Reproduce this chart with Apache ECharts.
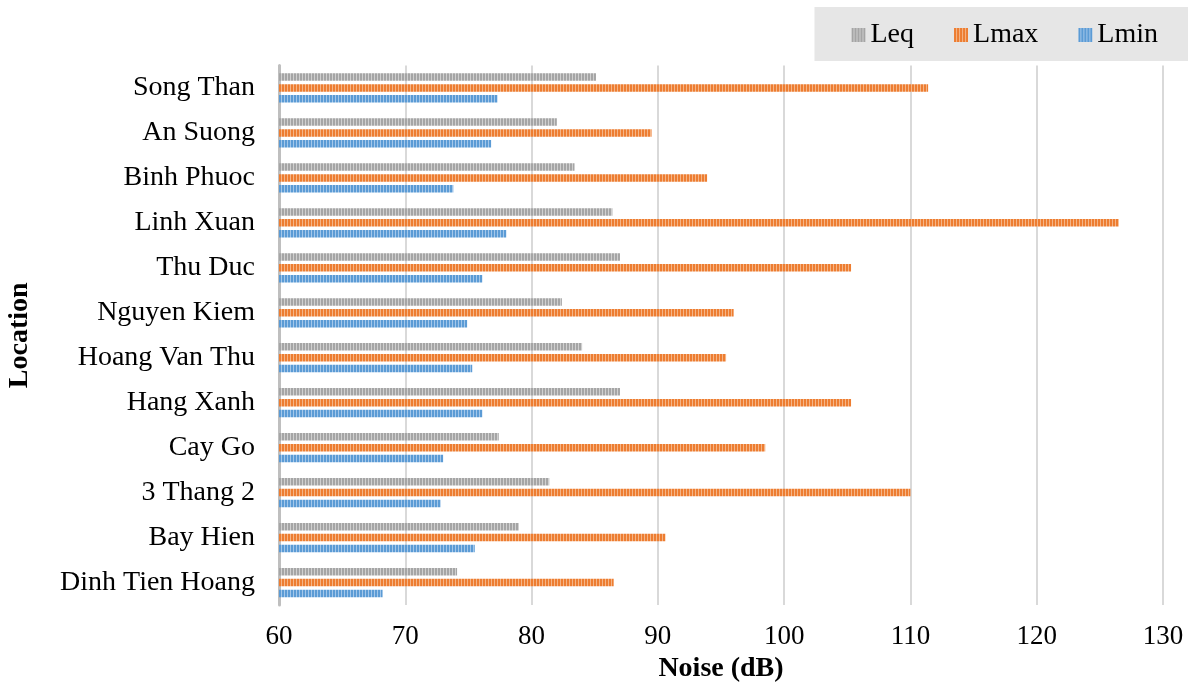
<!DOCTYPE html>
<html>
<head>
<meta charset="utf-8">
<script src="https://cdn.jsdelivr.net/npm/echarts@6/dist/echarts.min.js"></script>
<style>
html,body{margin:0;padding:0;background:#fff;}
#chart{width:1188px;height:684px;}
</style>
</head>
<body>
<div id="chart"></div>
<script>
const categories = ['Song Than','An Suong','Binh Phuoc','Linh Xuan','Thu Duc','Nguyen Kiem','Hoang Van Thu','Hang Xanh','Cay Go','3 Thang 2','Bay Hien','Dinh Tien Hoang'];
const leq  = [85.1, 82.0, 83.4, 86.4, 87.0, 82.4, 84.0, 87.0, 77.4, 81.4, 79.0, 74.1];
const lmax = [111.4, 89.5, 93.9, 126.5, 105.3, 96.0, 95.4, 105.3, 98.5, 110.0, 90.6, 86.5];
const lmin = [77.3, 76.8, 73.8, 78.0, 76.1, 74.9, 75.3, 76.1, 73.0, 72.8, 75.5, 68.2];
const seriesNames = ['Leq','Lmax','Lmin'];
const xTicks = {min: 60, max: 130, interval: 10};

function stripe(base, light) {
  const c = document.createElement('canvas');
  c.width = 3; c.height = 3;
  const ctx = c.getContext('2d');
  ctx.fillStyle = base; ctx.fillRect(0, 0, 3, 3);
  ctx.fillStyle = light; ctx.fillRect(2, 0, 1, 3);
  return {image: c, repeat: 'repeat'};
}
const fills = [
  stripe('#a5a5a5', '#d0d0d0'),
  stripe('#ed7d31', '#f5b587'),
  stripe('#5b9bd5', '#a3c7ea')
];
const font = 'Liberation Serif';
const chart = echarts.init(document.getElementById('chart'), null, {renderer: 'canvas'});
const dataSets = [leq, lmax, lmin];
chart.setOption({
  animation: false,
  textStyle: {fontFamily: font, color: '#000'},
  legend: {
    right: 0, top: 7,
    padding: [14, 30, 12, 37],
    backgroundColor: '#e6e6e6',
    itemGap: 40, itemWidth: 14, itemHeight: 14,
    icon: 'rect',
    textStyle: {fontFamily: font, fontSize: 28, color: '#000'},
    data: seriesNames
  },
  grid: {left: 279, right: 25, top: 65.5, bottom: 79, containLabel: false, outerBoundsMode: 'none'},
  xAxis: {
    type: 'value', min: xTicks.min, max: xTicks.max, interval: xTicks.interval,
    axisLine: {show: false}, axisTick: {show: false},
    axisLabel: {fontFamily: font, fontSize: 27, color: '#000', margin: 18},
    splitLine: {lineStyle: {color: '#d9d9d9', width: 2}},
    name: 'Noise (dB)', nameLocation: 'middle', nameGap: 42,
    nameTextStyle: {fontFamily: font, fontSize: 28, fontWeight: 'bold', color: '#000'}
  },
  yAxis: {
    type: 'category', inverse: true, data: categories,
    axisLine: {show: true, lineStyle: {color: '#bfbfbf', width: 3}},
    axisTick: {show: false},
    axisLabel: {fontFamily: font, fontSize: 28, color: '#000', margin: 24},
    name: 'Location', nameLocation: 'middle', nameGap: 245, nameRotate: 90,
    nameTextStyle: {fontFamily: font, fontSize: 28, fontWeight: 'bold', color: '#000'}
  },
  series: seriesNames.map((n, i) => ({
    name: n, type: 'bar', data: dataSets[i],
    barWidth: 7.5, barGap: '45%',
    itemStyle: {color: fills[i]}
  }))
});
</script>
</body>
</html>
